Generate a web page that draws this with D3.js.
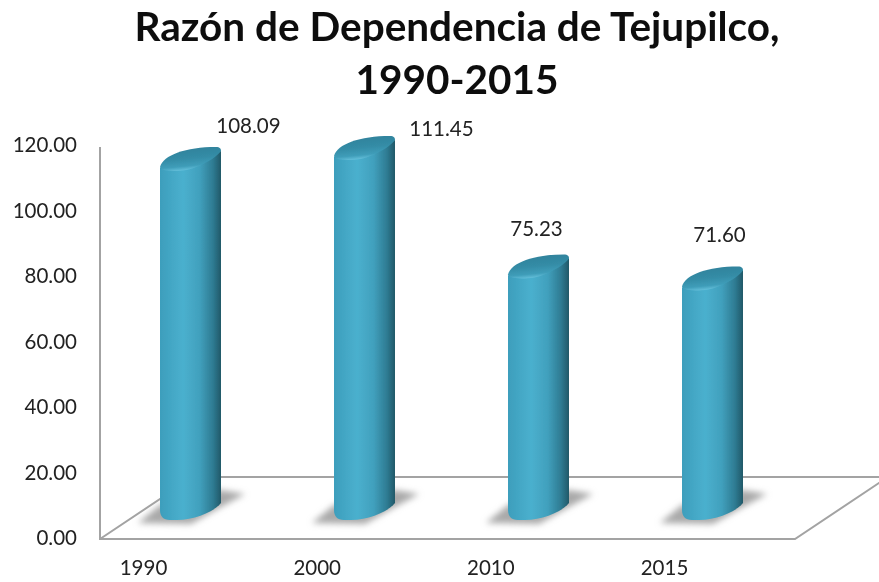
<!DOCTYPE html>
<html><head><meta charset="utf-8">
<script src="https://cdnjs.cloudflare.com/ajax/libs/d3/7.8.5/d3.min.js"></script>
<style>html,body{margin:0;padding:0;background:#fff}svg{display:block}text{font-family:Lato,"Open Sans",sans-serif}</style>
</head><body><div id="c"></div>
<script>
const categories = ["1990","2000","2010","2015"];
const values = [108.09,111.45,75.23,71.60];
const valueLabels = ["108.09","111.45","75.23","71.60"];
const yTicks = [0,20,40,60,80,100,120];
const titleLines = ["Razón de Dependencia de Tejupilco,","1990-2015"];

const W=879,H=582;
const svg=d3.select("#c").append("svg").attr("width",W).attr("height",H);
const defs=svg.append("defs");
const grad=defs.append("linearGradient").attr("id","body");
[[0,"#3d9ebc"],[.38,"#4ab0ce"],[.65,"#41a0bd"],[.87,"#2e7b92"],[1,"#215868"]].forEach(([o,c])=>grad.append("stop").attr("offset",o).attr("stop-color",c));
const gradTop=defs.append("linearGradient").attr("id","top").attr("x1",0).attr("y1",0).attr("x2",.25).attr("y2",1);
[[0,"#2f7f98"],[.55,"#348ca6"],[.85,"#3f9db9"],[1,"#62bdd8"]].forEach(([o,c])=>gradTop.append("stop").attr("offset",o).attr("stop-color",c));
defs.append("filter").attr("id","sh").attr("x","-20%").attr("y","-50%").attr("width","140%").attr("height","200%").append("feGaussianBlur").attr("stdDeviation",3);
defs.append("filter").attr("id","soft").append("feGaussianBlur").attr("stdDeviation",.45);

const y=d3.scaleLinear().domain([0,120]).range([538,145]);
const xLabel=d3.scalePoint().domain(categories).range([143,664]);
const xBar=d3.scaleBand().domain(categories).range([160-56.5,682+61+56.5]).paddingInner(113/174).paddingOuter(56.5/174);
const bw=xBar.bandwidth(), baseY=522;
const h=v=>y(0)-y(v);

// title
svg.append("g").selectAll("text").data(titleLines).join("text")
 .attr("x",457).attr("y",(d,i)=>41+i*53).attr("text-anchor","middle")
 .attr("font-size",40.5).attr("font-weight",700).attr("fill","#111").attr("filter","url(#soft)").text(d=>d);

// floor and walls
const frame=svg.append("g").attr("fill","none").attr("stroke","#a3a3a3").attr("stroke-width",2).attr("filter","url(#soft)");
const x0=100,x1=795,yF=539,yB=477,d=93;
frame.append("path").attr("d",d3.line()([[x0,147],[x0,yF],[x1,yF],[x1+d,yB],[x0+d,yB],[x0,yF]]));

// axes
const ya=svg.append("g").attr("transform","translate(77,0)").call(d3.axisLeft(y).tickValues(yTicks).tickSize(0).tickPadding(0).tickFormat(d3.format(".2f")));
const xa=svg.append("g").attr("transform","translate(0,561)").call(d3.axisBottom(xLabel).tickSize(0).tickPadding(0));
[ya,xa].forEach(a=>{a.select(".domain").remove();a.selectAll("text").attr("font-size",20.5).attr("fill","#222").attr("font-family","Lato,sans-serif").attr("filter","url(#soft)");});
xa.selectAll("text").attr("dy",".7em");

// bars
const g=svg.append("g").selectAll("g").data(values).join("g")
 .attr("transform",(v,i)=>`translate(${xBar(categories[i])},${baseY})`);
g.append("path").attr("fill","#a9a9a9").attr("filter","url(#sh)")
 .attr("d",`M${-22},1 L0,-17 L${bw},-32 L${bw+24},-28 L${bw-2},-14 L${bw-30},2 Z`);
g.append("path").attr("fill","url(#body)").attr("filter","url(#soft)")
 .attr("d",(v)=>{const t=-h(v);return `M0,${t} L${bw},${t-17} L${bw},-19 C${bw-6},-11 ${bw-26},-2 ${bw-44},-2 L10,-2 C3,-2 0,-6 0,-12 Z`;});
g.append("path").attr("fill","url(#top)").attr("filter","url(#soft)")
 .attr("d",(v)=>{const t=-h(v);return `M0,${t-1} C3,${t-13} 26,${t-21} ${bw-5},${t-21} C${bw-1},${t-21} ${bw},${t-19} ${bw},${t-17} C${bw-7},${t-8} ${bw-28},${t+3} ${bw-44},${t+3} C8,${t+3} 0,${t+2} 0,${t-1} Z`;});

// value labels
const labelDx=[58,77,-2,7], labelDy=[-20,-6,-25,-31];
svg.append("g").selectAll("text").data(values).join("text")
 .attr("x",(v,i)=>xBar(categories[i])+bw/2+labelDx[i])
 .attr("y",(v,i)=>baseY-h(v)-21+labelDy[i]+6)
 .attr("text-anchor","middle").attr("font-size",20.5).attr("fill","#222").attr("filter","url(#soft)")
 .text((v,i)=>valueLabels[i]);
</script></body></html>
